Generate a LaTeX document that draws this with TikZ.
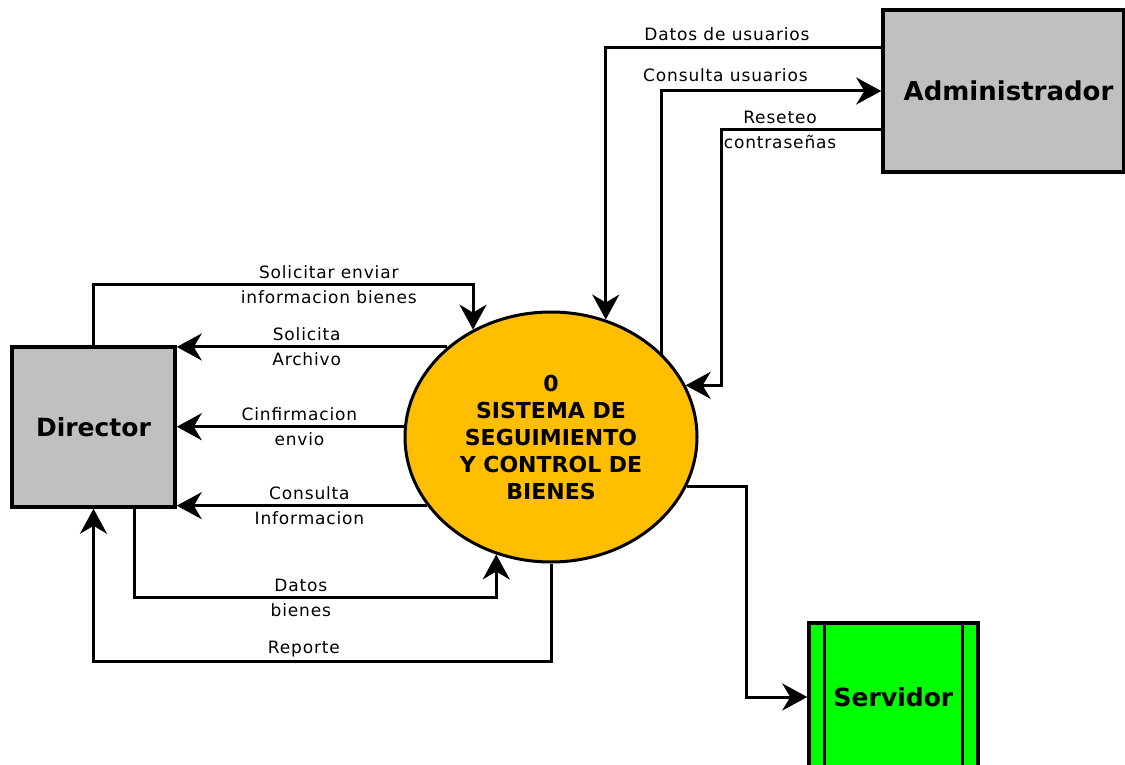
\documentclass[tikz,border=0pt]{standalone}
\usepackage{fontspec}
\setmainfont{DejaVu Sans}
\newfontfamily\etqfont[LetterSpace=5]{DejaVu Sans}
\usetikzlibrary{arrows.meta,shapes.geometric}
\definecolor{gris}{RGB}{192,192,192}
\definecolor{ambar}{RGB}{255,190,0}
\definecolor{verde}{RGB}{0,255,0}

\begin{document}
\begin{tikzpicture}[x=1pt, y=-1pt,
    entidad/.style={draw, line width=3.5pt, fill=gris, inner sep=0pt,
      font=\fontsize{25}{30}\selectfont\bfseries},
    flujo/.style={line width=3pt, -{Stealth[length=25pt, width=27pt, inset=8pt]}},
    etiqueta/.style={font=\etqfont\fontsize{17}{25}\selectfont, align=center, inner sep=0pt}]
        \useasboundingbox (0, 0) rectangle (1125, 765);
        % entidades externas y proceso
        \node[entidad, minimum width=241pt, minimum height=162pt,
          font=\fontsize{26}{30}\selectfont\bfseries] (adm) at (1003.5, 91) {\hspace*{10pt}Administrador};
        \node[entidad, minimum width=163pt, minimum height=160pt] (dir) at (93.5, 427) {Director};
        \node[entidad, fill=verde, minimum width=169pt, minimum height=148pt] (srv) at (893.5, 697) {Servidor};
        \draw[line width=3pt] ([xshift=17pt]srv.north west) -- ([xshift=17pt]srv.south west);
        \draw[line width=3pt] ([xshift=-17pt]srv.north east) -- ([xshift=-17pt]srv.south east);
        \node[ellipse, draw, line width=3pt, fill=ambar, minimum width=292pt, minimum height=250pt,
          align=center, font=\fontsize{22}{27}\selectfont\bfseries] (sys) at (551, 437)
          {0\\SISTEMA DE\\SEGUIMIENTO\\Y CONTROL DE\\BIENES};
        % flujos con el administrador
        \draw[flujo] ([yshift=43pt]adm.west) -| (sys.65)
          node[etiqueta, pos=0.28, above=6pt] {Datos de usuarios};
        \draw[flujo] (sys.37) |- (adm.west)
          node[etiqueta, pos=0.645, above=8pt] {Consulta usuarios};
        \draw[flujo] ([yshift=-39pt]adm.west) -| ([xshift=36pt]sys.21)
          node[etiqueta, pos=0.317] {Reseteo\\contraseñas} -- (sys.21);
        % flujos con el director
        \draw[flujo] (dir.north) |- ([yshift=45pt]sys.126)
          node[etiqueta, pos=0.81] {Solicitar enviar\\informacion bienes} -- (sys.126);
        \draw[flujo] (sys.139) -- (sys.139 -| dir.east)
          node[etiqueta, pos=0.52] {Solicita\\Archivo};
        \draw[flujo] (sys.176) -- (sys.176 -| dir.east)
          node[etiqueta, pos=0.46] {Cinfirmacion\\envio};
        \draw[flujo] (sys.209) -- (sys.209 -| dir.east)
          node[etiqueta, pos=0.47] {Consulta\\Informacion};
        \draw[flujo] ([xshift=41pt]dir.south) |- ([yshift=-43pt]sys.-115)
          node[etiqueta, pos=0.73] {Datos\\bienes} -- (sys.-115);
        \draw[flujo] (sys.south) |- ([yshift=-153pt]dir.south)
          node[etiqueta, pos=0.77, above=3pt] {Reporte} -- (dir.south);
        % flujo al servidor
        \draw[flujo] (sys.-20) -| ([xshift=-61pt]srv.west) -- (srv.west);
      \end{tikzpicture}
\end{document}
